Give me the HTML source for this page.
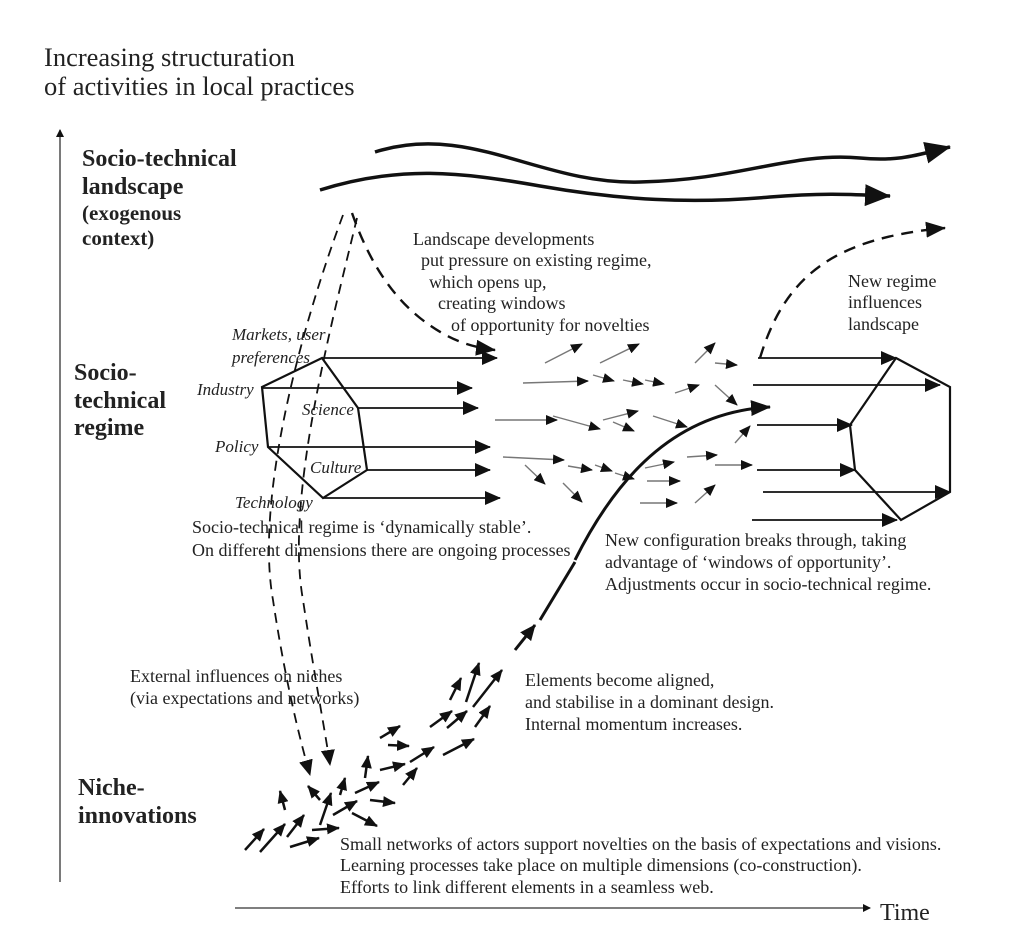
<!DOCTYPE html>
<html><head><meta charset="utf-8"><style>
html,body{margin:0;padding:0;background:#fff;}
svg{display:block;}
text{font-family:"Liberation Serif",serif;fill:#222;}
.t{font-size:18px;}
.b{font-size:24px;font-weight:bold;}
.i{font-size:17px;font-style:italic;}
</style></head><body>
<svg width="1024" height="938" viewBox="0 0 1024 938" xmlns="http://www.w3.org/2000/svg">
<defs>
<marker id="a" markerWidth="12" markerHeight="10" refX="11" refY="5" orient="auto" markerUnits="userSpaceOnUse" viewBox="0 0 12 10"><path d="M0,0 L12,5 L0,10 Z" fill="#111"/></marker>
<marker id="n" markerWidth="13" markerHeight="11" refX="12" refY="5.5" orient="auto" markerUnits="userSpaceOnUse" viewBox="0 0 13 11"><path d="M0,0 L13,5.5 L0,11 Z" fill="#111"/></marker>
<marker id="t" markerWidth="8" markerHeight="8" refX="7" refY="4" orient="auto" markerUnits="userSpaceOnUse" viewBox="0 0 8 8"><path d="M0,0 L8,4 L0,8 Z" fill="#111"/></marker>
<marker id="s" markerWidth="16" markerHeight="14" refX="15" refY="7" orient="auto" markerUnits="userSpaceOnUse"><path d="M0,0 L16,7 L0,14 Z" fill="#111"/></marker>
<marker id="L" markerWidth="26" markerHeight="22" refX="25" refY="11" orient="auto" markerUnits="userSpaceOnUse"><path d="M0,0 L26,11 L0,22 Z" fill="#111"/></marker>
<marker id="m" markerWidth="20" markerHeight="16" refX="19" refY="8" orient="auto" markerUnits="userSpaceOnUse"><path d="M0,0 L20,8 L0,16 Z" fill="#111"/></marker>
</defs>

<text x="44" y="66" style="font-size:26.5px">Increasing structuration</text>
<text x="44" y="95" style="font-size:26.5px">of activities in local practices</text>

<line x1="60" y1="882" x2="60" y2="130" stroke="#333" stroke-width="1.3" marker-end="url(#t)"/>
<line x1="235" y1="908" x2="870" y2="908" stroke="#333" stroke-width="1.3" marker-end="url(#t)"/>
<text x="880" y="920" style="font-size:24px">Time</text>

<text class="b" x="82" y="166">Socio-technical</text>
<text class="b" x="82" y="194">landscape</text>
<text class="b" x="82" y="220" style="font-size:21px">(exogenous</text>
<text class="b" x="82" y="245" style="font-size:21px">context)</text>
<text class="b" x="74" y="380">Socio-</text>
<text class="b" x="74" y="408">technical</text>
<text class="b" x="74" y="435">regime</text>
<text class="b" x="78" y="795">Niche-</text>
<text class="b" x="78" y="823">innovations</text>

<g fill="none" stroke="#111" stroke-width="3.5">
<path d="M375,152 C470,122 540,185 640,182 C740,180 790,152 860,158 C900,162 920,154 950,147" marker-end="url(#L)"/>
<path d="M320,190 C400,165 460,172 540,186 C620,200 690,204 770,197 C830,192 860,195 890,196" marker-end="url(#L)"/>
</g>
<g fill="none" stroke="#111" stroke-width="2.4" stroke-dasharray="12,8">
<path d="M760,358 C785,275 835,238 945,228" marker-end="url(#m)"/>
<path d="M352,213 C365,250 385,290 420,318 C448,340 470,347 495,350" marker-end="url(#m)"/>
</g>
<g fill="none" stroke="#111" stroke-width="1.8" stroke-dasharray="10,7">
<path d="M343,215 C300,330 255,500 273,600 C285,680 300,740 310,775" marker-end="url(#s)"/>
<path d="M357,218 C330,330 285,500 303,600 C315,680 325,730 330,765" marker-end="url(#s)"/>
</g>

<text class="t" x="413" y="245">Landscape  developments</text>
<text class="t" x="421" y="266">put pressure on existing regime,</text>
<text class="t" x="429" y="288">which opens up,</text>
<text class="t" x="438" y="309">creating windows</text>
<text class="t" x="451" y="331">of opportunity for novelties</text>
<text class="t" x="848" y="287">New  regime</text>
<text class="t" x="848" y="308">influences</text>
<text class="t" x="848" y="330">landscape</text>

<polygon points="322,358 262,387 268,447 323,498 367,470 358,408" fill="none" stroke="#111" stroke-width="2.2"/>
<g stroke="#111" stroke-width="1.8" marker-end="url(#s)">
<line x1="322" y1="358" x2="497" y2="358"/>
<line x1="262" y1="388" x2="472" y2="388"/>
<line x1="358" y1="408" x2="478" y2="408"/>
<line x1="268" y1="447" x2="490" y2="447"/>
<line x1="367" y1="470" x2="490" y2="470"/>
<line x1="323" y1="498" x2="500" y2="498"/>
</g>
<text class="i" x="232" y="340">Markets, user</text>
<text class="i" x="232" y="363">preferences</text>
<text class="i" x="197" y="395">Industry</text>
<text class="i" x="302" y="415">Science</text>
<text class="i" x="215" y="452">Policy</text>
<text class="i" x="310" y="473">Culture</text>
<text class="i" x="235" y="508">Technology</text>

<polygon points="896,358 950,387 950,492 901,520 855,470 850,425" fill="none" stroke="#111" stroke-width="2.2"/>
<g stroke="#111" stroke-width="1.8" marker-end="url(#s)">
<line x1="758" y1="358" x2="896" y2="358"/>
<line x1="753" y1="385" x2="940" y2="385"/>
<line x1="757" y1="425" x2="852" y2="425"/>
<line x1="757" y1="470" x2="855" y2="470"/>
<line x1="763" y1="492" x2="950" y2="492"/>
<line x1="752" y1="520" x2="897" y2="520"/>
</g>

<g stroke="#777" stroke-width="1.4" marker-end="url(#a)">
<line x1="545" y1="363" x2="582" y2="344"/><line x1="600" y1="363" x2="639" y2="344"/>
<line x1="523" y1="383" x2="588" y2="381"/><line x1="593" y1="375" x2="614" y2="381"/>
<line x1="623" y1="380" x2="643" y2="384"/><line x1="645" y1="380" x2="664" y2="384"/>
<line x1="675" y1="393" x2="699" y2="385"/><line x1="715" y1="363" x2="737" y2="365"/>
<line x1="695" y1="363" x2="715" y2="343"/><line x1="715" y1="385" x2="737" y2="405"/>
<line x1="495" y1="420" x2="557" y2="420"/><line x1="553" y1="416" x2="600" y2="429"/>
<line x1="603" y1="420" x2="638" y2="411"/><line x1="613" y1="422" x2="634" y2="431"/>
<line x1="653" y1="416" x2="687" y2="427"/><line x1="735" y1="443" x2="750" y2="426"/>
<line x1="503" y1="457" x2="564" y2="460"/><line x1="525" y1="465" x2="545" y2="484"/>
<line x1="568" y1="466" x2="592" y2="470"/><line x1="595" y1="465" x2="612" y2="471"/>
<line x1="615" y1="473" x2="634" y2="479"/><line x1="645" y1="468" x2="674" y2="462"/>
<line x1="687" y1="457" x2="717" y2="455"/><line x1="715" y1="465" x2="752" y2="465"/>
<line x1="647" y1="481" x2="680" y2="481"/><line x1="563" y1="483" x2="582" y2="502"/>
<line x1="695" y1="503" x2="715" y2="485"/><line x1="640" y1="503" x2="677" y2="503"/>
</g>

<path d="M575,560 C620,470 680,412 770,407" fill="none" stroke="#111" stroke-width="3" marker-end="url(#m)"/>
<line x1="540" y1="620" x2="575" y2="562" stroke="#111" stroke-width="3"/>
<line x1="515" y1="650" x2="535" y2="625" stroke="#111" stroke-width="3" marker-end="url(#s)"/>

<g stroke="#111" stroke-width="2.5" marker-end="url(#n)">
<line x1="245" y1="850" x2="264" y2="829"/><line x1="260" y1="852" x2="285" y2="824"/>
<line x1="290" y1="847" x2="319" y2="838"/><line x1="287" y1="837" x2="304" y2="815"/>
<line x1="312" y1="830" x2="339" y2="828"/><line x1="285" y1="810" x2="280" y2="791"/>
<line x1="320" y1="800" x2="308" y2="786"/><line x1="320" y1="825" x2="331" y2="793"/>
<line x1="333" y1="815" x2="357" y2="801"/><line x1="340" y1="795" x2="345" y2="778"/>
<line x1="355" y1="793" x2="379" y2="782"/><line x1="352" y1="813" x2="377" y2="826"/>
<line x1="370" y1="800" x2="395" y2="803"/><line x1="365" y1="778" x2="368" y2="756"/>
<line x1="380" y1="770" x2="405" y2="764"/><line x1="403" y1="785" x2="417" y2="768"/>
<line x1="380" y1="738" x2="400" y2="726"/><line x1="388" y1="745" x2="409" y2="746"/>
<line x1="410" y1="762" x2="434" y2="747"/><line x1="443" y1="755" x2="474" y2="739"/>
<line x1="430" y1="727" x2="452" y2="711"/><line x1="447" y1="728" x2="467" y2="711"/>
<line x1="450" y1="700" x2="461" y2="678"/><line x1="466" y1="702" x2="479" y2="663"/>
<line x1="473" y1="707" x2="502" y2="670"/><line x1="475" y1="727" x2="490" y2="706"/>
</g>

<text class="t" x="192" y="533">Socio-technical regime  is ‘dynamically stable’.</text>
<text class="t" x="192" y="556">On different dimensions there are ongoing processes</text>
<text class="t" x="605" y="546">New configuration breaks through, taking</text>
<text class="t" x="605" y="568">advantage of ‘windows of opportunity’.</text>
<text class="t" x="605" y="590">Adjustments occur in socio-technical regime.</text>
<text class="t" x="525" y="686">Elements become aligned,</text>
<text class="t" x="525" y="708">and stabilise in a dominant design.</text>
<text class="t" x="525" y="730">Internal momentum increases.</text>
<text class="t" x="130" y="682">External influences on niches</text>
<text class="t" x="130" y="704">(via expectations and networks)</text>
<text class="t" x="340" y="850">Small networks of actors support novelties on the basis of expectations and visions.</text>
<text class="t" x="340" y="871">Learning processes take place on multiple dimensions (co-construction).</text>
<text class="t" x="340" y="893">Efforts to link different elements in a seamless web.</text>
</svg>
</body></html>
